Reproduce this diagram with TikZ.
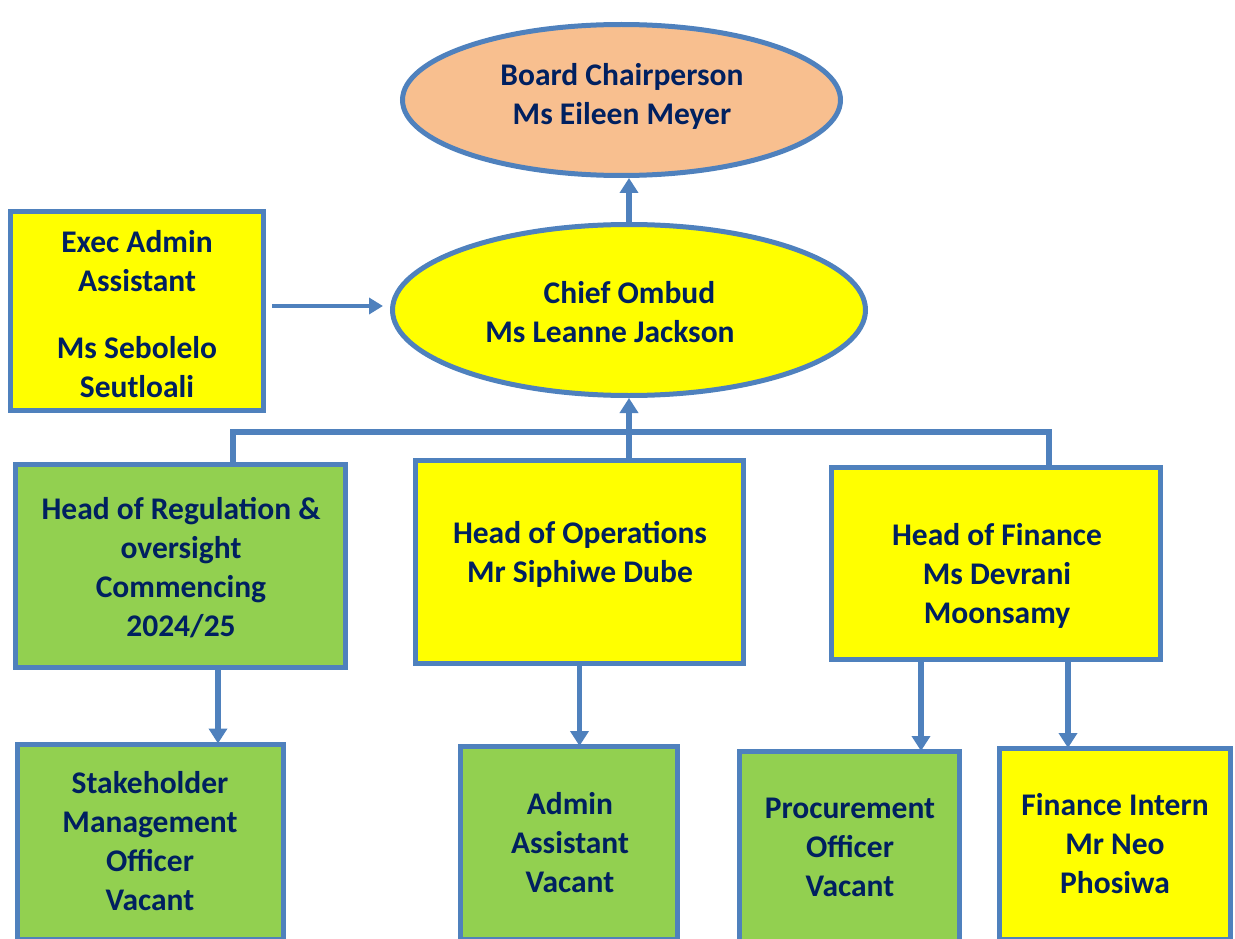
\documentclass[tikz,border=0pt]{standalone}
\usepackage{fontspec}
\setmainfont{Carlito}
\usetikzlibrary{shapes.geometric,arrows.meta}
\definecolor{bord}{HTML}{4F81BD}
\definecolor{navy}{HTML}{002060}
\definecolor{peach}{HTML}{F8BF8F}
\definecolor{ygold}{HTML}{FFFF00}
\definecolor{lgreen}{HTML}{92D050}
\tikzset{
 shp/.style={draw=bord, line width=5pt, inner sep=0pt},
 ybox/.style={shp, rectangle, fill=ygold},
 gbox/.style={shp, rectangle, fill=lgreen},
 ell/.style={shp, ellipse},
 txt/.style={text=navy, font=\fontsize{31.5}{39}\selectfont\bfseries, align=center, inner sep=0pt},
 conn/.style={draw=bord, line width=5.5pt, -{Triangle[width=18pt,length=15pt]}},
 thinconn/.style={draw=bord, line width=3.5pt, -{Triangle[width=16pt,length=14pt]}},
 bus/.style={draw=bord, line width=5.5pt},
}
\begin{document}
\begin{tikzpicture}[x=1pt,y=-1pt]
\useasboundingbox (0,0) rectangle (1235,939);
\clip (0,0) rectangle (1235,939);
% shapes
\node[ell, fill=peach, minimum width=438pt, minimum height=151pt] (board) at (621.5,100) {};
\node[ell, fill=ygold, minimum width=473pt, minimum height=171pt] (chief) at (629,310) {};
\node[ybox, minimum width=253pt, minimum height=199pt] (exec) at (137,311) {};
\node[gbox, minimum width=330pt, minimum height=203pt] (reg) at (180.5,566) {};
\node[ybox, minimum width=328pt, minimum height=203pt] (ops) at (579.5,562) {};
\node[ybox, minimum width=329pt, minimum height=192pt] (fin) at (996,563.5) {};
\node[gbox, minimum width=266pt, minimum height=195pt] (stake) at (150.5,841.5) {};
\node[gbox, minimum width=217pt, minimum height=193pt] (adm) at (569,843) {};
\node[gbox, minimum width=220pt, minimum height=191pt] (proc) at (849.5,847) {};
\node[ybox, minimum width=231pt, minimum height=191pt] (intern) at (1115,844) {};
% texts
\node[txt] (boardt) at (622,96) {Board Chairperson\\Ms Eileen Meyer};
\node[txt] (chieft) at (610,312) {\hspace*{39pt}Chief Ombud\\Ms Leanne Jackson};
\node[txt] (exect) at (137,314) {Exec Admin\\Assistant\\[28pt]Ms Sebolelo\\Seutloali};
\node[txt] (regt) at (181,567.5) {Head of Regulation \&\\oversight\\Commencing\\2024/25};
\node[txt] (opst) at (580,554.5) {Head of Operations\\Mr Siphiwe Dube};
\node[txt] (fint) at (997,576) {Head of Finance\\Ms Devrani\\Moonsamy};
\node[txt] (staket) at (150,841.5) {Stakeholder\\Management\\Officer\\Vacant};
\node[txt] (admt) at (570,843) {Admin\\Assistant\\Vacant};
\node[txt] (proct) at (850,847) {Procurement\\Officer\\Vacant};
\node[txt] (internt) at (1115,844) {Finance Intern\\Mr Neo\\Phosiwa};
% connector points
\coordinate (busL) at (233,432);
\coordinate (busR) at (1049,432);
\coordinate (dA) at (218,0);
\coordinate (dF1) at (921,0);
\coordinate (dF2) at (1068,0);
% connectors
\draw[bus] (busL |- reg.north) -- (busL) -- (busR) -- (busR |- fin.north);
\draw[conn] (ops.north -| chief.south) -- (chief.south);
\draw[conn] (chief.north) -- (chief.north |- board.south);
\draw[thinconn, shorten <=6pt, shorten >=7pt] ([yshift=5pt]exec.east) -- ([yshift=5pt]exec.east -| chief.west);
\draw[conn, shorten >=-2pt] (reg.south -| dA) -- (stake.north -| dA);
\draw[conn, shorten >=-2pt] (ops.south) -- (ops.south |- adm.north);
\draw[conn, shorten >=-2pt] (fin.south -| dF1) -- (proc.north -| dF1);
\draw[conn, shorten >=-2pt] (fin.south -| dF2) -- (intern.north -| dF2);
\end{tikzpicture}
\end{document}
